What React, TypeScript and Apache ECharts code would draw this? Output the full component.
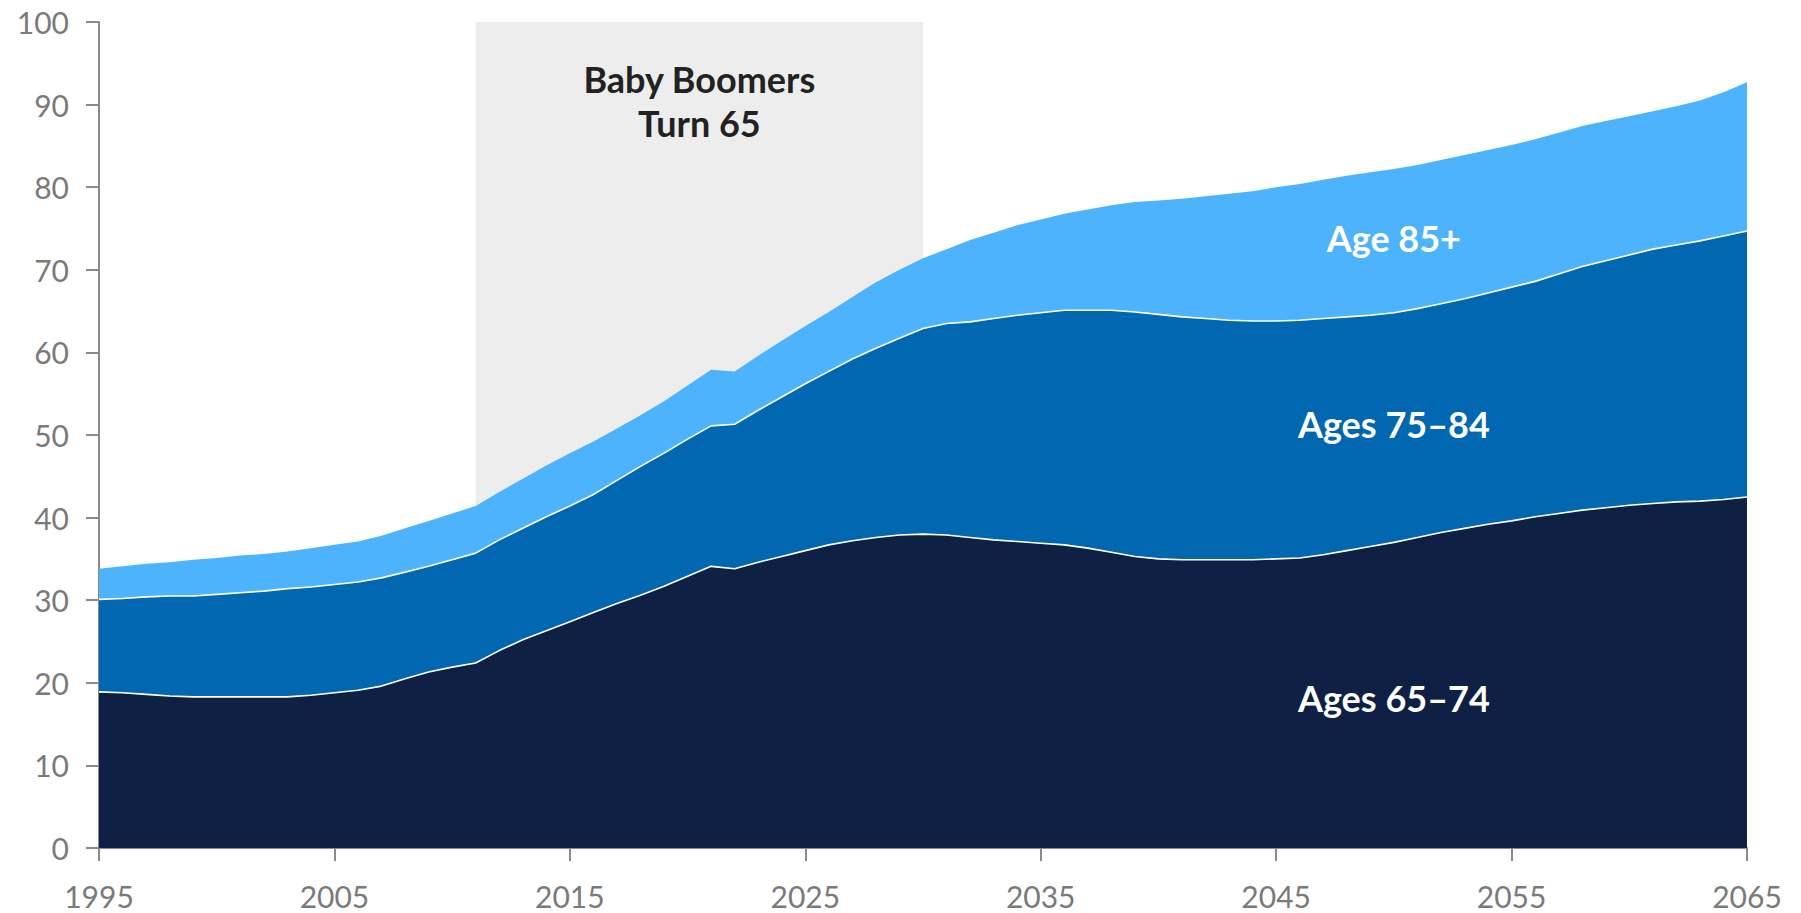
import React, { useEffect, useRef } from "react";
import * as echarts from "echarts";

const years: string[] = [];
for (let y = 1995; y <= 2065; y++) years.push(String(y));

// Values (stack components, per year 1995–2065)
const ages65to74 = [
  18.9, 18.8, 18.6, 18.4, 18.3, 18.3, 18.3, 18.3, 18.3, 18.5,
  18.8, 19.1, 19.6, 20.5, 21.3, 21.9, 22.4, 23.9, 25.2, 26.3,
  27.4, 28.5, 29.6, 30.6, 31.7, 32.9, 34.1, 33.8, 34.6, 35.3,
  36.0, 36.7, 37.2, 37.6, 37.9, 38.0, 37.9, 37.6, 37.3, 37.1,
  36.9, 36.7, 36.3, 35.8, 35.3, 35.0, 34.9, 34.9, 34.9, 34.9,
  35.0, 35.1, 35.5, 36.0, 36.5, 37.0, 37.6, 38.2, 38.7, 39.2,
  39.6, 40.1, 40.5, 40.9, 41.2, 41.5, 41.7, 41.9, 42.0, 42.2,
  42.5,
];
const ages75to84 = [
  11.2, 11.4, 11.8, 12.1, 12.2, 12.4, 12.6, 12.8, 13.1, 13.1,
  13.1, 13.1, 13.1, 12.9, 12.8, 13.0, 13.3, 13.4, 13.5, 13.8,
  14.0, 14.3, 14.9, 15.6, 16.1, 16.6, 17.0, 17.5, 18.4, 19.3,
  20.2, 21.0, 22.0, 22.9, 23.8, 24.9, 25.6, 26.1, 26.8, 27.4,
  27.9, 28.4, 28.8, 29.3, 29.6, 29.6, 29.4, 29.2, 29.0, 28.9,
  28.8, 28.8, 28.6, 28.3, 28.0, 27.8, 27.7, 27.7, 27.8, 28.0,
  28.3, 28.5, 29.0, 29.5, 29.9, 30.3, 30.8, 31.1, 31.5, 31.9,
  32.2,
];
const age85plus = [
  3.7, 3.9, 4.0, 4.1, 4.4, 4.4, 4.5, 4.5, 4.5, 4.7,
  4.8, 4.9, 5.1, 5.3, 5.5, 5.6, 5.7, 5.8, 6.0, 6.2,
  6.4, 6.4, 6.3, 6.2, 6.3, 6.5, 6.8, 6.4, 6.6, 6.8,
  7.0, 7.2, 7.5, 8.0, 8.3, 8.5, 9.0, 9.9, 10.4, 10.9,
  11.3, 11.7, 12.2, 12.7, 13.3, 13.8, 14.3, 14.8, 15.3, 15.7,
  16.2, 16.5, 16.8, 17.1, 17.3, 17.4, 17.4, 17.4, 17.4, 17.3,
  17.2, 17.2, 17.1, 17.0, 16.9, 16.8, 16.7, 16.8, 17.0, 17.4,
  18.0,
];

const seriesNames = ["Ages 65–74", "Ages 75–84", "Age 85+"];
const bandStart = "2011";
const bandEnd = "2030";
const bandLabel = "Baby Boomers\nTurn 65";
const labelYear = "2050";
const labelValues = [18.2, 51.3, 73.8];

const COLORS = ["#0e2043", "#0067b0", "#4eb3fd"];
const AXIS_GRAY = "#8a8a8a";
const LABEL_GRAY = "#7a7a7a";
const FONT = "Lato, 'Noto Sans', sans-serif";

export default function App() {
  const ref = useRef<HTMLDivElement>(null);

  useEffect(() => {
    if (!ref.current) return;
    const chart = echarts.init(ref.current, null, { renderer: "svg" });
    const dataSets = [ages65to74, ages75to84, age85plus];

    const mkLabel = (i: number) => ({
      symbol: "circle",
      symbolSize: 0,
      silent: true,
      label: {
        show: true,
        position: "inside",
        formatter: seriesNames[i],
        color: "#ffffff",
        fontFamily: FONT,
        fontWeight: "bold",
        fontSize: 36,
      },
      data: [{ coord: [labelYear, labelValues[i]] }],
    });

    const series: any[] = dataSets.map((d, i) => ({
      name: seriesNames[i],
      type: "line",
      stack: "total",
      data: d,
      symbol: "none",
      smooth: false,
      z: 4 - i,
      lineStyle: { color: "#ffffff", width: i === 2 ? 0 : 1.6 },
      areaStyle: { color: COLORS[i], opacity: 1 },
      itemStyle: { color: COLORS[i] },
      markPoint: mkLabel(i),
    }));

    series.push({
      type: "line",
      data: [],
      z: 0,
      markArea: {
        silent: true,
        z: 0,
        itemStyle: { color: "#ededed" },
        label: {
          show: true,
          position: "insideTop",
          distance: 35,
          formatter: bandLabel,
          color: "#222222",
          fontFamily: FONT,
          fontWeight: "bold",
          fontSize: 36,
          lineHeight: 44,
          align: "center",
        },
        data: [[{ xAxis: bandStart }, { xAxis: bandEnd }]],
      },
    });

    chart.setOption({
      animation: false,
      backgroundColor: "#ffffff",
      grid: { left: 99, right: 54, top: 22, bottom: 65, containLabel: false },
      xAxis: {
        type: "category",
        data: years,
        boundaryGap: false,
        axisLine: { show: true, lineStyle: { color: AXIS_GRAY, width: 2 } },
        axisTick: {
          show: true,
          interval: 9,
          length: 13,
          lineStyle: { color: AXIS_GRAY, width: 2 },
        },
        axisLabel: {
          interval: 9,
          margin: 33,
          color: LABEL_GRAY,
          fontFamily: FONT,
          fontSize: 30,
        },
        splitLine: { show: false },
      },
      yAxis: {
        type: "value",
        min: 0,
        max: 100,
        interval: 10,
        axisLine: { show: true, lineStyle: { color: AXIS_GRAY, width: 2 } },
        axisTick: {
          show: true,
          length: 13,
          lineStyle: { color: AXIS_GRAY, width: 2 },
        },
        axisLabel: {
          margin: 30,
          color: LABEL_GRAY,
          fontFamily: FONT,
          fontSize: 30,
        },
        splitLine: { show: false },
      },
      series,
    });

    return () => chart.dispose();
  }, []);

  return (
    <div
      ref={ref}
      style={{ position: "fixed", left: 0, top: 0, width: "1801px", height: "913px" }}
    />
  );
}
